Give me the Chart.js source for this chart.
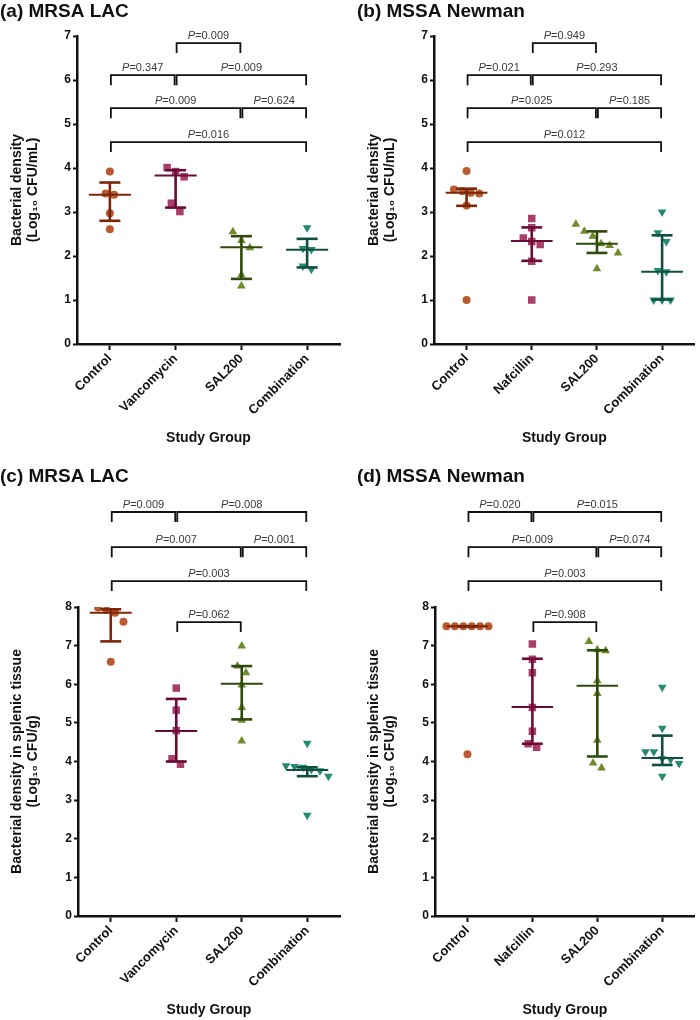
<!DOCTYPE html>
<html>
<head>
<meta charset="utf-8">
<script src="https://cdn.jsdelivr.net/npm/chart.js@4.4.1/dist/chart.umd.min.js"></script>
<style>
  body { margin: 0; background: #fff; width: 700px; height: 1020px; position: relative; overflow: hidden; }
  canvas { position: absolute; }
</style>
</head>
<body>
<canvas id="chartA" width="350" height="460" style="left:0;top:0"></canvas>
<canvas id="chartB" width="350" height="460" style="left:350px;top:0"></canvas>
<canvas id="chartC" width="350" height="560" style="left:0;top:460px"></canvas>
<canvas id="chartD" width="350" height="560" style="left:350px;top:460px"></canvas>
<script>
// groups
const groupsMRSA = ['Control', 'Vancomycin', 'SAL200', 'Combination']
const groupsMSSA = ['Control', 'Nafcillin', 'SAL200', 'Combination']

// (a) MRSA LAC, blood, log10 CFU/mL
const aControl = [3.92, 3.42, 3.39, 2.97, 2.61]
const aVanco = [4.01, 3.92, 3.80, 3.20, 3.01]
const aSal = [2.55, 2.35, 2.19, 1.57, 1.32]
const aCombo = [2.64, 2.17, 2.15, 1.77, 1.70]
const aMedian = [3.39, 3.83, 2.20, 2.14]
const aQ1 = [2.80, 3.10, 1.48, 1.74]
const aQ3 = [3.67, 3.95, 2.45, 2.39]
const aPairs = [[1, 2], [0, 1], [1, 3], [0, 2], [2, 3], [0, 3]]
const aP = ['0.009', '0.347', '0.009', '0.009', '0.624', '0.016']
const aLevels = [6.84, 6.11, 6.11, 5.36, 5.36, 4.59]

// (b) MSSA Newman, blood
const bControl = [3.93, 3.51, 3.47, 3.44, 3.42, 3.15, 1.00]
const bNafcillin = [2.85, 2.64, 2.41, 2.33, 2.26, 1.88, 1.00]
const bSal = [2.72, 2.56, 2.45, 2.28, 2.24, 2.07, 1.71]
const bCombo = [3.00, 2.53, 2.33, 1.67, 1.64, 1.00, 1.00, 1.00]
const bMedian = [3.44, 2.34, 2.28, 1.64]
const bQ1 = [3.14, 1.89, 2.07, 1.01]
const bQ3 = [3.53, 2.65, 2.56, 2.47]
const bPairs = [[1, 2], [0, 1], [1, 3], [0, 2], [2, 3], [0, 3]]
const bP = ['0.949', '0.021', '0.293', '0.025', '0.185', '0.012']
const bLevels = [6.84, 6.11, 6.11, 5.36, 5.36, 4.59]

// (c) MRSA LAC, spleen, log10 CFU/g
const cControl = [7.99, 7.92, 7.85, 7.62, 6.58]
const cVanco = [5.90, 5.33, 4.80, 4.07, 3.93]
const cSal = [6.99, 6.47, 6.30, 5.98, 5.40, 5.07, 4.53]
const cCombo = [4.47, 3.89, 3.87, 3.85, 3.80, 3.76, 3.62, 2.61]
const cMedian = [7.85, 4.79, 6.01, 3.78]
const cQ1 = [7.11, 4.00, 5.09, 3.62]
const cQ3 = [7.94, 5.62, 6.47, 3.85]
const cPairs = [[0, 1], [1, 3], [0, 2], [2, 3], [0, 3], [1, 2]]
const cP = ['0.009', '0.008', '0.007', '0.001', '0.003', '0.062']
const cLevels = [10.46, 10.46, 9.55, 9.55, 8.67, 7.61]

// (d) MSSA Newman, spleen
const dControl = [7.50, 7.50, 7.50, 7.50, 7.50, 7.50, 4.19]
const dNafcillin = [7.04, 6.65, 6.30, 5.40, 4.78, 4.46, 4.37]
const dSal = [7.11, 6.89, 6.87, 6.09, 5.76, 4.55, 3.96, 3.83]
const dCombo = [5.92, 4.86, 4.25, 4.25, 4.07, 4.05, 3.95, 3.62]
const dMedian = [7.50, 5.41, 5.96, 4.09]
const dQ1 = [7.50, 4.46, 4.13, 3.91]
const dQ3 = [7.50, 6.66, 6.88, 4.67]
const dPairs = [[0, 1], [1, 3], [0, 2], [2, 3], [0, 3], [1, 2]]
const dP = ['0.020', '0.015', '0.009', '0.074', '0.003', '0.908']
const dLevels = [10.46, 10.46, 9.55, 9.55, 8.67, 7.61]

const FONT = '"Liberation Sans", Arial, sans-serif'
Chart.defaults.font.family = FONT
Chart.defaults.color = '#111'

const pointColors = ['#ba5a30', '#a93e69', '#6f8b2d', '#228b71']
const barColors = ['#7c2608', '#6b0c38', '#2f4a0a', '#0f4f40']
const pointStyles = ['circle', 'rect', 'triangle', 'triangle']
const pointRotations = [0, 0, 0, 180]
const pointSizes = [4, 5.3, 5, 5]

// spread points of close value side by side, like a dot plot
function swarm(vals, group, pxPerUnit) {
    const order = vals.map((v, i) => i).sort((p, q) => vals[q] - vals[p])
    const out = []
    let cluster = []
    const flush = () => {
        cluster.forEach((j, k) => {
            const off = (k - (cluster.length - 1) / 2) * 8.5 / 65.7
            out[j] = {x: group + off, y: vals[j]}
        })
        cluster = []
    }
    order.forEach(j => {
        if (cluster.length && (vals[cluster[cluster.length - 1]] - vals[j]) * pxPerUnit > 9) flush()
        cluster.push(j)
    })
    flush()
    return out
}

function line(ctx, x1, y1, x2, y2) {
    ctx.beginPath()
    ctx.moveTo(x1, y1)
    ctx.lineTo(x2, y2)
    ctx.stroke()
}

// median with interquartile range
const summaryPlugin = {
    id: 'summary',
    afterDatasetsDraw(chart, args, o) {
        const {ctx, scales: {x, y}} = chart
        ctx.save()
        o.median.forEach((m, i) => {
            const cx = x.getPixelForValue(i)
            const cap = x.getPixelForValue(i + 0.16) - cx
            const wide = x.getPixelForValue(i + 0.32) - cx
            const y1 = y.getPixelForValue(o.q1[i])
            const y3 = y.getPixelForValue(o.q3[i])
            const ym = y.getPixelForValue(m)
            ctx.strokeStyle = barColors[i]
            ctx.lineWidth = 2.6
            line(ctx, cx, y1, cx, y3)
            line(ctx, cx - cap, y1, cx + cap, y1)
            line(ctx, cx - cap, y3, cx + cap, y3)
            ctx.lineWidth = 2
            line(ctx, cx - wide, ym, cx + wide, ym)
        })
        ctx.restore()
    }
}

// significance brackets
const bracketPlugin = {
    id: 'brackets',
    afterDraw(chart, args, o) {
        const {ctx, scales: {x, y}} = chart
        ctx.save()
        o.pairs.forEach((pr, k) => {
            const x1 = x.getPixelForValue(pr[0]) + 1
            const x2 = x.getPixelForValue(pr[1]) - 1
            const yl = y.getPixelForValue(o.levels[k])
            ctx.strokeStyle = '#111'
            ctx.lineWidth = 1.8
            ctx.beginPath()
            ctx.moveTo(x1, yl + 10)
            ctx.lineTo(x1, yl)
            ctx.lineTo(x2, yl)
            ctx.lineTo(x2, yl + 10)
            ctx.stroke()

            const rest = '=' + o.labels[k]
            ctx.font = 'italic 11px ' + FONT
            const wP = ctx.measureText('P').width
            ctx.font = '11px ' + FONT
            const wR = ctx.measureText(rest).width
            const sx = (x1 + x2) / 2 - (wP + wR) / 2
            ctx.fillStyle = '#3a3a3a'
            ctx.textBaseline = 'middle'
            ctx.textAlign = 'left'
            ctx.font = 'italic 11px ' + FONT
            ctx.fillText('P', sx, yl - 7)
            ctx.font = '11px ' + FONT
            ctx.fillText(rest, sx + wP, yl - 7)
        })
        ctx.restore()
    }
}

function panel(id, o) {
    const datasets = o.series.map((vals, i) => ({
        data: swarm(vals, i, o.pxPerUnit),
        pointStyle: pointStyles[i],
        pointRotation: pointRotations[i],
        pointRadius: pointSizes[i],
        pointHoverRadius: pointSizes[i],
        pointBackgroundColor: pointColors[i],
        pointBorderWidth: 0,
        showLine: false
    }))

    new Chart(document.getElementById(id), {
        type: 'scatter',
        data: {datasets},
        options: {
            responsive: false,
            animation: false,
            events: [],
            layout: {padding: {left: o.padLeft, right: o.padRight, top: o.padTop, bottom: 0}},
            plugins: {
                legend: {display: false},
                tooltip: {enabled: false},
                title: {
                    display: true, text: o.title, align: 'start', color: '#111',
                    font: {size: 19, weight: 'bold'},
                    padding: {top: 0, bottom: o.titleGap}
                },
                summary: {median: o.median, q1: o.q1, q3: o.q3},
                brackets: {pairs: o.pairs, levels: o.levels, labels: o.pLabels}
            },
            scales: {
                x: {
                    type: 'linear', min: -0.5, max: 3.5,
                    afterBuildTicks: s => { s.ticks = [0, 1, 2, 3].map(v => ({value: v})) },
                    afterFit: s => { s.height = o.xHeight },
                    ticks: {
                        callback: v => o.groups[v], autoSkip: false,
                        minRotation: 45, maxRotation: 45, padding: 1,
                        color: '#111', font: {size: 13, weight: 'bold'}
                    },
                    grid: {drawOnChartArea: false, tickLength: 6, tickWidth: 2, tickColor: '#111'},
                    border: {width: 2.5, color: '#111'},
                    title: {
                        display: true, text: 'Study Group', color: '#111',
                        font: {size: 14, weight: 'bold'},
                        padding: {top: 0, bottom: o.xTitlePad}
                    }
                },
                y: {
                    min: 0, max: o.yMax,
                    afterFit: s => { s.width = o.yWidth },
                    ticks: {stepSize: 1, padding: 2, color: '#111', font: {size: 12, weight: 'bold'}},
                    grid: {drawOnChartArea: false, tickLength: 4, tickWidth: 2, tickColor: '#111'},
                    border: {width: 2.5, color: '#111'},
                    title: {
                        display: true, text: o.yTitle, color: '#111',
                        font: {size: 14, weight: 'bold', lineHeight: 1.15},
                        padding: {top: 9, bottom: 0}
                    }
                }
            }
        },
        plugins: [summaryPlugin, bracketPlugin]
    })
}

const bloodTitle = ['Bacterial density', '(Log\u2081\u2080 CFU/mL)']
const spleenTitle = ['Bacterial density in splenic tissue', '(Log\u2081\u2080 CFU/g)']

const topLayout = {pxPerUnit: 44, yMax: 7, padTop: 0, titleGap: 13.2, xHeight: 116, xTitlePad: 13.6, yWidth: 77, yTitle: bloodTitle}
const bottomLayout = {pxPerUnit: 38.6, yMax: 8, padTop: 5.6, titleGap: 118.6, xHeight: 104, xTitlePad: 1.6, yWidth: 78, yTitle: spleenTitle}

panel('chartA', Object.assign({}, topLayout, {
    title: '(a) MRSA LAC', groups: groupsMRSA, padLeft: 0, padRight: 10,
    series: [aControl, aVanco, aSal, aCombo], median: aMedian, q1: aQ1, q3: aQ3,
    pairs: aPairs, levels: aLevels, pLabels: aP
}))
panel('chartB', Object.assign({}, topLayout, {
    title: '(b) MSSA Newman', groups: groupsMSSA, padLeft: 7, padRight: 3,
    series: [bControl, bNafcillin, bSal, bCombo], median: bMedian, q1: bQ1, q3: bQ3,
    pairs: bPairs, levels: bLevels, pLabels: bP
}))
panel('chartC', Object.assign({}, bottomLayout, {
    title: '(c) MRSA LAC', groups: groupsMRSA, padLeft: 0, padRight: 10,
    series: [cControl, cVanco, cSal, cCombo], median: cMedian, q1: cQ1, q3: cQ3,
    pairs: cPairs, levels: cLevels, pLabels: cP
}))
panel('chartD', Object.assign({}, bottomLayout, {
    title: '(d) MSSA Newman', groups: groupsMSSA, padLeft: 7, padRight: 3,
    series: [dControl, dNafcillin, dSal, dCombo], median: dMedian, q1: dQ1, q3: dQ3,
    pairs: dPairs, levels: dLevels, pLabels: dP
}))
</script>
</body>
</html>
